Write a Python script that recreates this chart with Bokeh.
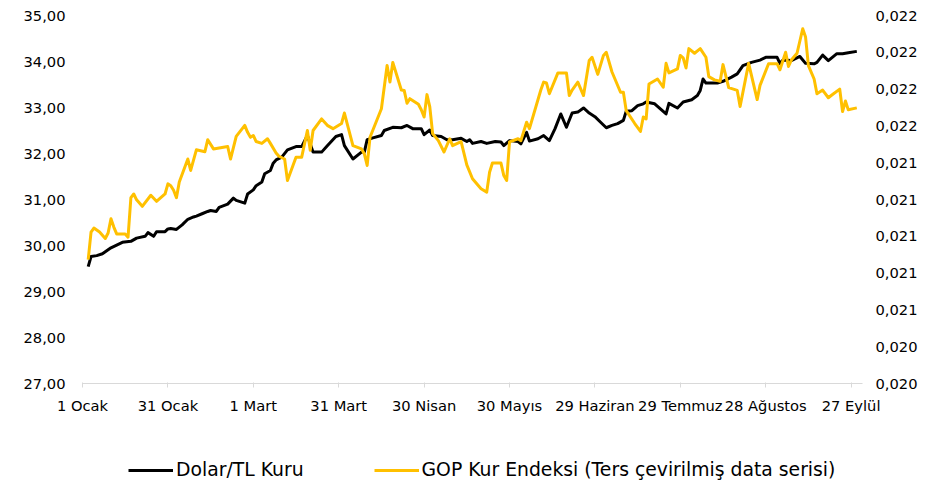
from bokeh.plotting import figure
from bokeh.layouts import column
from bokeh.models import (Range1d, LinearAxis, FixedTicker, CustomJSTickFormatter,
                          Legend, LegendItem, ColumnDataSource)
from bokeh.embed import file_html
from bokeh.resources import INLINE

# ---- data ----
# x positions are days counted from 1 Ocak 2024
x_tick_days = [0, 30, 60, 90, 120, 150, 180, 210, 240, 270]
x_tick_labels = ["1 Ocak", "31 Ocak", "1 Mart", "31 Mart", "30 Nisan", "30 Mayıs",
                 "29 Haziran", "29 Temmuz", "28 Ağustos", "27 Eylül"]
usd_ticks = [27, 28, 29, 30, 31, 32, 33, 34, 35]
gop_ticks = [0.0202, 0.0204, 0.0206, 0.0208, 0.0210, 0.0212, 0.0214, 0.0216, 0.0218, 0.0220, 0.0222]

usd_day = [2, 3, 5, 7, 10, 12, 14, 17, 19, 22,
           23, 25, 26, 29, 30, 31, 33, 35, 37, 39,
           40, 42, 44, 45, 47, 48, 51, 53, 54, 57,
           58, 60, 61, 63, 64, 66, 67, 68, 70, 72,
           75, 77, 79, 81, 84, 86, 89, 91, 92, 95,
           98, 99, 100, 102, 105, 106, 109, 112, 114, 116,
           119, 120, 122, 123, 126, 128, 130, 133, 135, 136,
           137, 140, 142, 145, 147, 148, 150, 153, 154, 156,
           157, 160, 162, 164, 166, 168, 170, 172, 174, 176,
           178, 180, 182, 184, 186, 188, 190, 191, 193, 195,
           197, 198, 201, 203, 205, 206, 209, 211, 214, 216,
           217, 218, 219, 223, 225, 228, 230, 232, 235, 238,
           240, 244, 245, 246, 249, 252, 254, 257, 258, 260,
           262, 265, 267, 269, 272]
usd_try = [29.54, 29.76, 29.78, 29.82, 29.95, 30.01, 30.07, 30.09, 30.16, 30.20,
           30.28, 30.20, 30.30, 30.30, 30.36, 30.37, 30.35, 30.45, 30.57, 30.62,
           30.64, 30.69, 30.74, 30.76, 30.74, 30.83, 30.90, 31.03, 30.98, 30.92,
           31.12, 31.21, 31.30, 31.38, 31.56, 31.63, 31.79, 31.86, 31.92, 32.08,
           32.15, 32.15, 32.39, 32.03, 32.03, 32.17, 32.37, 32.41, 32.17, 31.88,
           32.03, 32.03, 32.30, 32.34, 32.39, 32.50, 32.57, 32.56, 32.61, 32.54,
           32.54, 32.41, 32.51, 32.39, 32.37, 32.30, 32.30, 32.33, 32.26, 32.30,
           32.22, 32.26, 32.22, 32.26, 32.25, 32.17, 32.28, 32.26, 32.21, 32.46,
           32.27, 32.32, 32.39, 32.28, 32.54, 32.86, 32.57, 32.88, 32.90, 32.99,
           32.88, 32.80, 32.68, 32.56, 32.61, 32.65, 32.72, 32.92, 32.93, 33.04,
           33.08, 33.12, 33.08, 32.97, 32.86, 33.09, 32.99, 33.12, 33.17, 33.26,
           33.37, 33.62, 33.53, 33.53, 33.57, 33.66, 33.73, 33.91, 33.98, 34.03,
           34.09, 34.09, 33.96, 34.03, 34.02, 34.11, 33.96, 33.95, 33.98, 34.14,
           34.02, 34.17, 34.17, 34.19, 34.22]

gop_day = [2, 3, 4, 6, 8, 9, 10, 11, 12, 15,
           16, 17, 18, 19, 21, 24, 26, 29, 30, 31,
           32, 33, 34, 37, 38, 40, 43, 44, 46, 51,
           52, 54, 57, 58, 59, 60, 61, 63, 65, 66,
           68, 69, 71, 72, 75, 77, 79, 80, 81, 84,
           86, 88, 91, 92, 95, 98, 99, 100, 101, 105,
           107, 108, 109, 112, 113, 114, 115, 118, 119, 120,
           121, 122, 123, 125, 127, 129, 130, 133, 135, 137,
           140, 142, 143, 144, 147, 148, 149, 150, 153, 154,
           156, 157, 161, 162, 163, 164, 167, 170, 171, 172,
           174, 176, 178, 179, 181, 183, 184, 186, 189, 190,
           191, 194, 196, 197, 198, 199, 202, 204, 205, 206,
           209, 210, 211, 212, 213, 215, 217, 219, 220, 222,
           224, 225, 227, 230, 231, 234, 237, 238, 241, 244,
           245, 247, 248, 249, 251, 253, 254, 255, 257, 258,
           260, 262, 263, 266, 267, 268, 269, 272]
gop_inv = [0.020873, 0.021023, 0.021045, 0.021023, 0.020988, 0.021018, 0.021095, 0.021050, 0.021013, 0.021013,
           0.020995, 0.021210, 0.021230, 0.021198, 0.021163, 0.021223, 0.021190, 0.021230, 0.021285, 0.021275,
           0.021250, 0.021210, 0.021295, 0.021420, 0.021358, 0.021470, 0.021460, 0.021525, 0.021475, 0.021488,
           0.021420, 0.021543, 0.021603, 0.021565, 0.021538, 0.021548, 0.021515, 0.021505, 0.021530, 0.021505,
           0.021453, 0.021435, 0.021420, 0.021303, 0.021430, 0.021430, 0.021575, 0.021468, 0.021575, 0.021638,
           0.021603, 0.021585, 0.021613, 0.021670, 0.021493, 0.021475, 0.021448, 0.021385, 0.021538, 0.021693,
           0.021928, 0.021838, 0.021945, 0.021795, 0.021793, 0.021723, 0.021748, 0.021718, 0.021688, 0.021648,
           0.021770, 0.021703, 0.021558, 0.021520, 0.021458, 0.021530, 0.021493, 0.021515, 0.021388, 0.021313,
           0.021258, 0.021240, 0.021348, 0.021398, 0.021398, 0.021330, 0.021303, 0.021513, 0.021530, 0.021520,
           0.021620, 0.021585, 0.021795, 0.021838, 0.021833, 0.021775, 0.021888, 0.021888, 0.021765, 0.021795,
           0.021838, 0.021765, 0.021955, 0.021973, 0.021880, 0.021983, 0.022000, 0.021893, 0.021783, 0.021783,
           0.021683, 0.021613, 0.021570, 0.021648, 0.021638, 0.021828, 0.021855, 0.021810, 0.021940, 0.021888,
           0.021910, 0.021983, 0.021970, 0.021915, 0.022020, 0.021995, 0.022020, 0.021973, 0.021868, 0.021850,
           0.021843, 0.021933, 0.021808, 0.021793, 0.021705, 0.021940, 0.021743, 0.021820, 0.021938, 0.021938,
           0.021905, 0.022000, 0.021923, 0.021958, 0.021995, 0.022128, 0.022083, 0.021928, 0.021855, 0.021775,
           0.021795, 0.021753, 0.021765, 0.021800, 0.021678, 0.021735, 0.021688, 0.021698]

label_usd = "Dolar/TL Kuru"
label_gop = "GOP Kur Endeksi (Ters çevirilmiş data serisi)"

# ---- styling ----
FONT = "DejaVu Sans"
AX_SIZE = "14.7px"
USD_COLOR = "black"
GOP_COLOR = "#FFC000"

# ---- main chart ----
p = figure(width=949, height=440, output_backend="svg", toolbar_location=None,
           x_range=Range1d(0, 274), y_range=Range1d(27, 35),
           min_border_left=82, min_border_right=87, min_border_top=15, min_border_bottom=57,
           background_fill_color="white", border_fill_color="white")
p.outline_line_color = None
p.grid.visible = False
p.extra_y_ranges = {"gop": Range1d(0.0202, 0.0222)}

src_usd = ColumnDataSource(dict(x=usd_day, y=usd_try))
src_gop = ColumnDataSource(dict(x=gop_day, y=gop_inv))
p.line("x", "y", source=src_usd, line_color=USD_COLOR, line_width=3, line_join="round")
p.line("x", "y", source=src_gop, line_color=GOP_COLOR, line_width=3, line_join="round",
       y_range_name="gop")

# x axis
xa = p.xaxis[0]
xa.ticker = FixedTicker(ticks=x_tick_days)
xa.major_label_overrides = {d: lab for d, lab in zip(x_tick_days, x_tick_labels)}
xa.axis_line_color = "#D9D9D9"
xa.major_tick_line_color = "#D9D9D9"
xa.major_tick_in = 1
xa.major_tick_out = 4
xa.minor_tick_line_color = None
xa.major_label_standoff = 9
xa.major_label_text_font = FONT
xa.major_label_text_font_size = AX_SIZE
xa.major_label_text_color = "black"

# left axis
ya = p.yaxis[0]
ya.ticker = FixedTicker(ticks=usd_ticks)
ya.formatter = CustomJSTickFormatter(code="return tick.toFixed(2).replace('.', ',');")
ya.axis_line_color = None
ya.major_tick_line_color = None
ya.major_tick_out = 0
ya.major_tick_in = 0
ya.minor_tick_line_color = None
ya.major_label_standoff = 17
ya.major_label_text_font = FONT
ya.major_label_text_font_size = AX_SIZE
ya.major_label_text_color = "black"

# right axis
ra = LinearAxis(y_range_name="gop", ticker=FixedTicker(ticks=gop_ticks),
                formatter=CustomJSTickFormatter(code="return tick.toFixed(3).replace('.', ',');"))
ra.axis_line_color = None
ra.major_tick_line_color = None
ra.major_tick_out = 0
ra.major_tick_in = 0
ra.minor_tick_line_color = None
ra.major_label_standoff = 13
ra.major_label_text_font = FONT
ra.major_label_text_font_size = AX_SIZE
ra.major_label_text_color = "black"
p.add_layout(ra, "right")

# ---- legend strip below the chart ----
# same series, but the ranges keep the data out of view: only the legend shows
q = figure(width=949, height=42, output_backend="svg", toolbar_location=None,
           x_range=Range1d(-20, -10), y_range=Range1d(0, 1),
           min_border_left=82, min_border_right=87, min_border_top=0, min_border_bottom=0,
           background_fill_color="white", border_fill_color="white")
q.outline_line_color = None
q.axis.visible = False
q.grid.visible = False
k_usd = q.line("x", "y", source=src_usd, line_color=USD_COLOR, line_width=3)
k_gop = q.line("x", "y", source=src_gop, line_color=GOP_COLOR, line_width=3)

legend = Legend(items=[LegendItem(label=label_usd, renderers=[k_usd]),
                       LegendItem(label=label_gop, renderers=[k_gop])],
                location=(46, 2), orientation="horizontal",
                glyph_width=45, glyph_height=16, label_standoff=3, spacing=70,
                padding=0, margin=0, border_line_color=None, background_fill_alpha=0,
                label_text_font=FONT, label_text_font_size="18.8px", label_text_color="black")
q.add_layout(legend)

open("out.html", "w").write(file_html(column(p, q, spacing=0), INLINE))
